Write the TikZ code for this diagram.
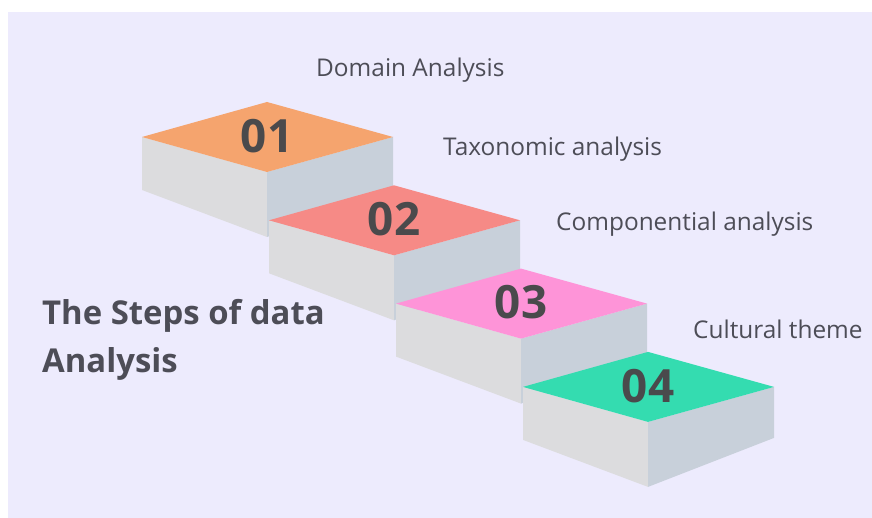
\documentclass[tikz,border=0pt]{standalone}
\usepackage{fontspec}
\setmainfont{Open Sans}
\usepackage{tikz}

\definecolor{bgcol}{HTML}{EDEBFD}
\definecolor{leftface}{HTML}{DCDCDE}
\definecolor{rightface}{HTML}{C8D0DA}
\definecolor{topone}{HTML}{F5A46E}
\definecolor{toptwo}{HTML}{F68A86}
\definecolor{topthree}{HTML}{FE94D8}
\definecolor{topfour}{HTML}{34DCB0}
\definecolor{txtcol}{HTML}{4D4D57}
\definecolor{numcol}{HTML}{4A4A4C}

\tikzset{
 stepnum/.style={font=\fontsize{46}{46}\selectfont\bfseries, text=numcol, inner sep=0pt},
 steplabel/.style={font=\fontsize{24.5}{24.5}\selectfont, text=txtcol, anchor=base west, inner sep=0pt},
 titletext/.style={font=\fontsize{33}{47}\selectfont\bfseries, text=txtcol, anchor=base west, inner sep=0pt}
}

\begin{document}
\begin{tikzpicture}[x=1bp,y=-1bp]
\useasboundingbox (0,0) rectangle (872,518);
\fill[white] (0,0) rectangle (872,518);
\fill[bgcol] (8,12) rectangle (872,518);
% the four steps
\foreach \i/\c/\n in {0/topone/01,1/toptwo/02,2/topthree/03,3/topfour/04}{
 \begin{scope}[shift={(127*\i,83.3*\i)}]
 \fill[leftface] (142,137) -- (267,172) -- (267,237) -- (142,190) -- cycle;
 \fill[rightface] (267,172) -- (393,137) -- (393,188) -- (267,237) -- cycle;
 \fill[\c] (142,137) -- (267,102) -- (393,137) -- (267,172) -- cycle;
 \node[stepnum](n\n) at (267,136){\n};
 \end{scope}
}
% labels
\node[steplabel](domain) at (316,77){Domain Analysis};
\node[steplabel](taxo) at (443,156){Taxonomic analysis};
\node[steplabel](comp) at (556,231){Componential analysis};
\node[steplabel](cult) at (693,339){Cultural theme};
\node[titletext](title1) at (42,325){The Steps of data};
\node[titletext](title2) at (42,372){Analysis};
\end{tikzpicture}
\end{document}
